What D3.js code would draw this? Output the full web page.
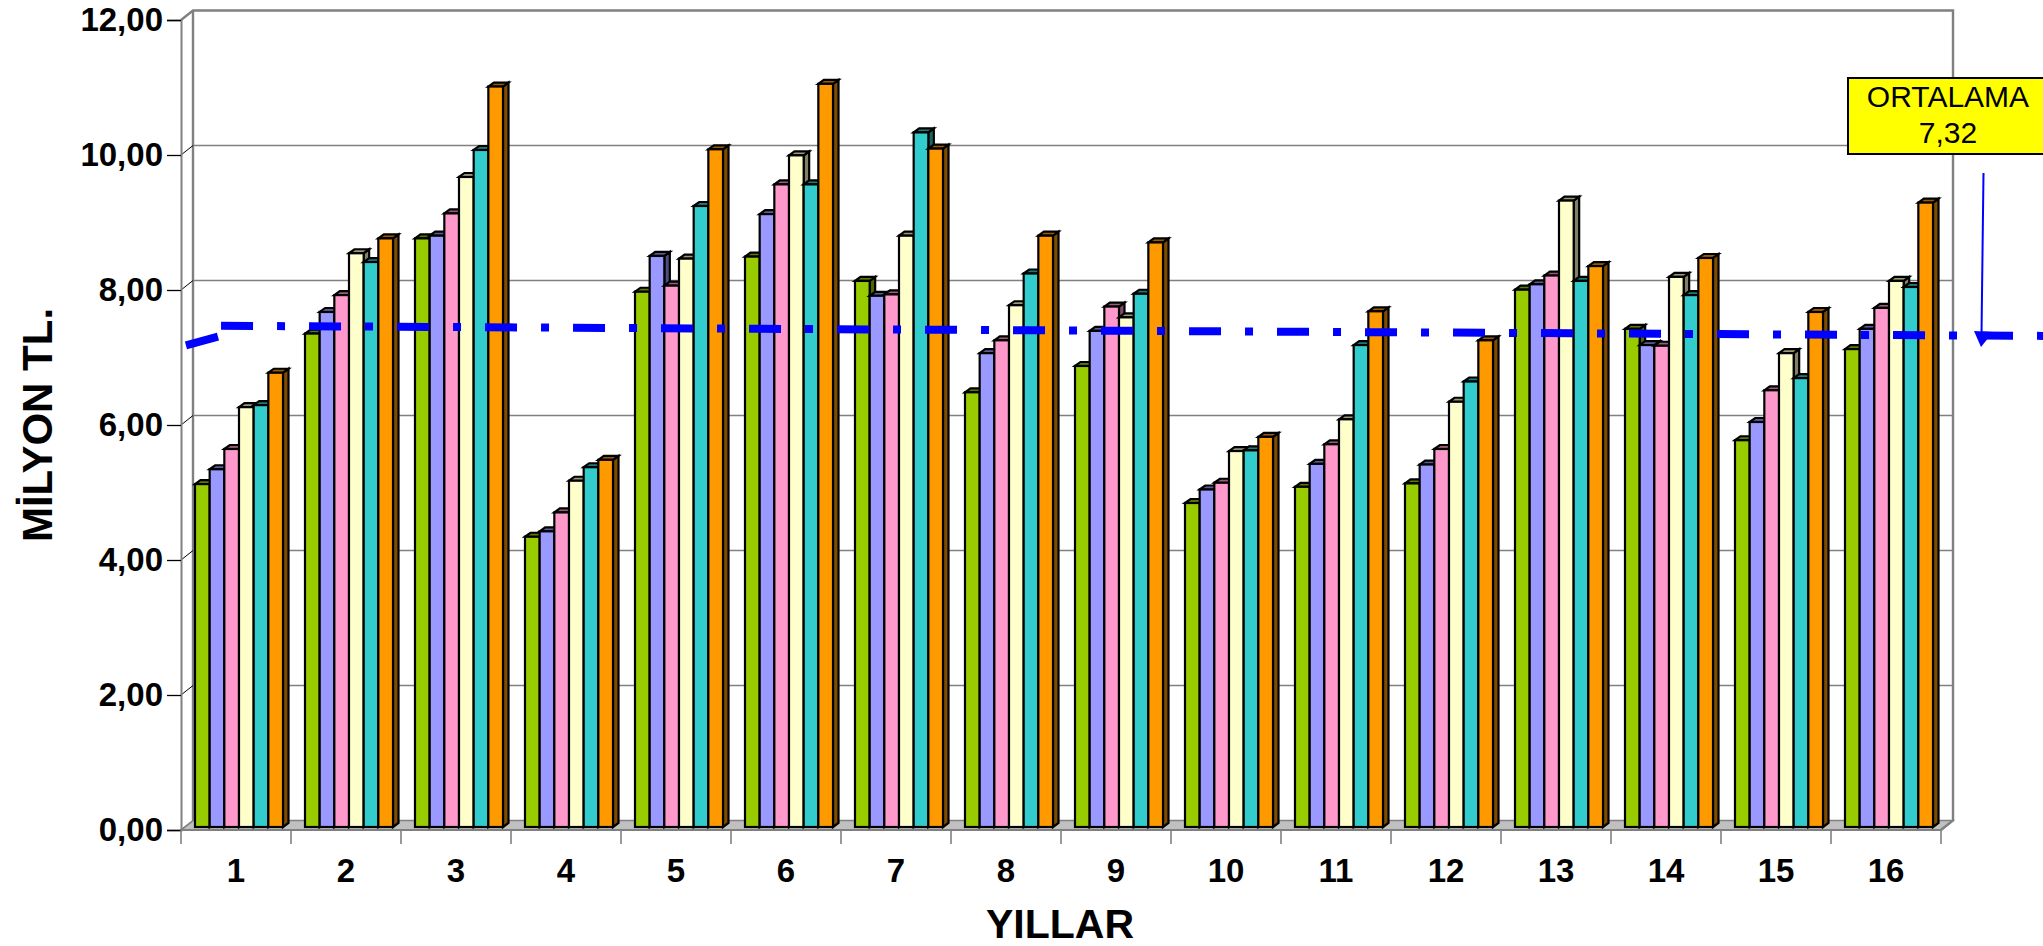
<!DOCTYPE html>
<html>
<head>
<meta charset="utf-8">
<script src="https://cdn.jsdelivr.net/npm/d3@7"></script>
<style>
html,body{margin:0;padding:0;background:#fff;overflow:hidden}
svg{display:block}
text{font-family:"Liberation Sans",Arial,sans-serif;fill:#000}
</style>
</head>
<body>
<script>
const categories = ["1","2","3","4","5","6","7","8","9","10","11","12","13","14","15","16"];
const seriesNames = ["s1","s2","s3","s4","s5","s6"];
const seriesColors = ["#99CC00","#9999FF","#FF99CC","#FFFFCC","#33CCCC","#FF9900"];
const s1 = [5.08,7.31,8.72,4.30,7.93,8.45,8.09,6.44,6.83,4.80,5.04,5.09,7.96,7.38,5.73,7.08];
const s2 = [5.30,7.63,8.76,4.38,8.46,9.08,7.87,7.02,7.35,5.00,5.38,5.37,8.04,7.14,6.00,7.38];
const s3 = [5.60,7.88,9.09,4.66,8.02,9.52,7.89,7.21,7.71,5.10,5.67,5.60,8.17,7.13,6.47,7.69];
const s4 = [6.22,8.50,9.63,5.13,8.42,9.95,8.76,7.73,7.55,5.57,6.04,6.30,9.28,8.15,7.02,8.09];
const s5 = [6.25,8.37,10.03,5.33,9.20,9.52,10.29,8.20,7.90,5.58,7.14,6.60,8.09,7.88,6.65,8.00];
const s6 = [6.73,8.72,10.97,5.44,10.04,11.01,10.05,8.76,8.66,5.78,7.64,7.21,8.31,8.43,7.63,9.25];
const allSeries = [s1,s2,s3,s4,s5,s6];
const yTicks = [0,2,4,6,8,10,12];
const yTickLabels = ["0,00","2,00","4,00","6,00","8,00","10,00","12,00"];
const avgLead = [[0.045,7.18],[0.336,7.31]];
const avgMain = [[0.364,7.47],[16.93,7.32]];
const avgLabel = ["ORTALAMA","7,32"];
const xTitle = "YILLAR";
const yTitle = "MİLYON TL.";

const W = 2043, H = 946;
const L = 181, R = 1941, Y0 = 830, Y12 = 20;
const DX = 12, DY = -9.5;
const svg = d3.select("body").append("svg").attr("width",W).attr("height",H);

const x = d3.scaleBand().domain(categories).range([L,R]);
const xSeries = d3.scaleBand().domain(seriesNames).range([14,102]);
const xPos = d3.scaleLinear().domain([0,16]).range([L,R]);
const y = d3.scaleLinear().domain([0,12]).range([Y0,Y12]);
const yBar = d3.scaleLinear().domain([0,12]).range([Y0-3,Y12-3]);
const GRAY = "#808080";

// walls and floor
const wall = svg.append("g");
wall.append("polygon")
  .attr("points",[[L,Y0],[L+DX,Y0+DY],[R+DX,Y0+DY],[R,Y0]].join(" "))
  .attr("fill","#C0C0C0").attr("stroke",GRAY).attr("stroke-width",1.6);
wall.selectAll("line.grid").data(yTicks.slice(1,-1)).join("line")
  .attr("x1",L+DX).attr("x2",R+DX)
  .attr("y1",d=>y(d)+DY).attr("y2",d=>y(d)+DY)
  .attr("stroke",GRAY).attr("stroke-width",1.6);
wall.append("path")
  .attr("d",`M${L},${y(12)}L${L+DX},${y(12)+DY}L${R+DX},${y(12)+DY}L${R+DX},${Y0+DY}L${R},${Y0}`)
  .attr("fill","none").attr("stroke",GRAY).attr("stroke-width",2.4);
wall.append("line").attr("x1",L+DX).attr("x2",L+DX).attr("y1",y(12)+DY).attr("y2",Y0+DY)
  .attr("stroke",GRAY).attr("stroke-width",2.4);
wall.selectAll("line.diag").data(yTicks.slice(1,-1)).join("line")
  .attr("x1",L).attr("x2",L+DX).attr("y1",d=>y(d)).attr("y2",d=>y(d)+DY)
  .attr("stroke","#000").attr("stroke-width",1);

// axes
const yAxis = d3.axisLeft(y).tickValues(yTicks).tickSize(14).tickPadding(4)
  .tickFormat((d,i)=>yTickLabels[i]);
const gy = svg.append("g").attr("transform",`translate(${L},0)`).call(yAxis);
gy.select(".domain").attr("stroke",GRAY).attr("stroke-width",2);
gy.selectAll("line").attr("stroke","#000").attr("stroke-width",1.3);
gy.selectAll("text").style("font-family",'"Liberation Sans",Arial,sans-serif')
  .style("font-size","33px").style("font-weight","bold").attr("fill","#000");

const xAxis = d3.axisBottom(x).tickSize(0).tickPadding(29);
const gx = svg.append("g").attr("transform",`translate(0,${Y0})`).call(xAxis);
gx.select(".domain").remove();
gx.selectAll("text").style("font-family",'"Liberation Sans",Arial,sans-serif')
  .style("font-size","33px").style("font-weight","bold").attr("fill","#000");
svg.append("g").selectAll("line").data(d3.range(0,17)).join("line")
  .attr("x1",d=>xPos(d)).attr("x2",d=>xPos(d)).attr("y1",Y0).attr("y2",Y0+14)
  .attr("stroke",GRAY).attr("stroke-width",1.6);
svg.append("line").attr("x1",L).attr("x2",R).attr("y1",Y0).attr("y2",Y0)
  .attr("stroke",GRAY).attr("stroke-width",2);

// bars
const BDX = 5.5, BDY = -4;
const barsG = svg.append("g").attr("stroke","#000").attr("stroke-width",2.2).attr("stroke-linejoin","miter");
categories.forEach((cat,ci)=>{
  allSeries.forEach((vals,si)=>{
    const col = seriesColors[si];
    const bw = xSeries.bandwidth();
    const x0 = x(cat)+xSeries(seriesNames[si]);
    const x1 = x0+bw, yt = yBar(vals[ci]), yb = yBar(0);
    const g = barsG.append("g");
    const side = d3.interpolateRgb(col,"#000")(0.5);
    const top = d3.interpolateRgb(col,"#000")(0.4);
    g.append("polygon").attr("fill",side)
      .attr("points",[[x1,yb],[x1+BDX,yb+BDY],[x1+BDX,yt+BDY],[x1,yt]].join(" "));
    g.append("polygon").attr("fill",top)
      .attr("points",[[x0,yt],[x0+BDX,yt+BDY],[x1+BDX,yt+BDY],[x1,yt]].join(" "));
    g.append("rect").attr("fill",col).attr("x",x0).attr("y",yt).attr("width",bw).attr("height",yb-yt);
  });
});

// average line
const lineGen = d3.line().x(d=>xPos(d[0])).y(d=>y(d[1]));
svg.append("path").attr("d",lineGen(avgLead)).attr("fill","none").attr("stroke","#0000FF").attr("stroke-width",8);
svg.append("path").attr("d",lineGen(avgMain)).attr("fill","none").attr("stroke","#0000FF").attr("stroke-width",8)
  .attr("stroke-dasharray","32 24 8 24");

// annotation
svg.append("rect").attr("x",1848).attr("y",78).attr("width",200).attr("height",76)
  .attr("fill","#FFFF00").attr("stroke","#000").attr("stroke-width",2);
svg.selectAll("text.note").data(avgLabel).join("text").attr("class","note")
  .attr("x",1948).attr("y",(d,i)=>106.5+i*36).attr("text-anchor","middle")
  .style("font-size","30px").text(d=>d);
svg.append("line").attr("x1",1983.5).attr("y1",173).attr("x2",1981.5).attr("y2",335)
  .attr("stroke","#0000FF").attr("stroke-width",2);
svg.append("polygon").attr("points","1974,331 1993,332 1981,347").attr("fill","#0000FF");

// titles
svg.append("text").attr("x",1060).attr("y",938).attr("text-anchor","middle")
  .style("font-size","41px").style("font-weight","bold").text(xTitle);
svg.append("text").attr("transform","translate(52,425) rotate(-90)").attr("text-anchor","middle")
  .style("font-size","42px").style("font-weight","bold").text(yTitle);
</script>
</body>
</html>
